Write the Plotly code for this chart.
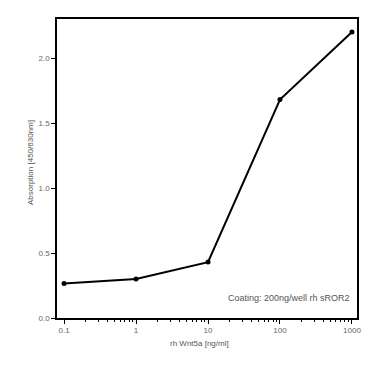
import plotly.graph_objects as go
import math

conc = [0.1, 1, 10, 100, 1000]
absorption = [0.265, 0.30, 0.43, 1.68, 2.20]
x_ticks = [0.1, 1, 10, 100, 1000]
x_tick_labels = ["0.1", "1", "10", "100", "1000"]
x_minor = [m * 10 ** d for d in range(-1, 3) for m in range(2, 10)]
y_ticks = [0.0, 0.5, 1.0, 1.5, 2.0]
y_tick_labels = ["0.0", "0.5", "1.0", "1.5", "2.0"]

fig = go.Figure()
fig.add_trace(go.Scatter(
    x=conc, y=absorption, mode="lines+markers",
    line=dict(color="black", width=2),
    marker=dict(color="black", size=5, symbol="circle"),
    showlegend=False,
))

font = "Liberation Sans, Arial, sans-serif"
# page body has an 8px margin; plot area targeted at x 57..357, y 19..318
W, H = 380, 358
L, R, T, B = 49, 31, 11, 48
pw, ph = W - L - R, H - T - B
fig.update_layout(
    width=W, height=H,
    margin=dict(l=L, r=R, t=T, b=B, autoexpand=False),
    paper_bgcolor="white", plot_bgcolor="white",
    font=dict(family=font, size=8, color="#555"),
    xaxis=dict(
        type="log", range=[math.log10(0.1) - 0.098, math.log10(1000) + 0.07],
        tickvals=x_ticks, ticktext=x_tick_labels,
        ticks="outside", ticklen=4, tickcolor="black", tickwidth=1,
        minor=dict(tickvals=x_minor, ticks="outside", ticklen=2, tickcolor="black", showgrid=False),
        showline=True, linecolor="black", linewidth=1.5, mirror=True,
        showgrid=False, zeroline=False,
        tickfont=dict(size=8, color="#666"),
    ),
    yaxis=dict(
        range=[0, 2.3],
        tickvals=y_ticks, ticktext=y_tick_labels,
        ticks="outside", ticklen=4, tickcolor="black", tickwidth=1,
        showline=True, linecolor="black", linewidth=1.5, mirror=True,
        showgrid=False, zeroline=False,
        tickfont=dict(size=8, color="#666"),
    ),
    annotations=[
        dict(text="Coating: 200ng/well rh sROR2", xref="paper", yref="paper",
             x=(352 - 57) / pw, y=(318 - 298) / ph, xanchor="right", yanchor="middle",
             showarrow=False, font=dict(size=9, color="#555", family=font)),
        dict(text="rh Wnt5a [ng/ml]", xref="paper", yref="paper",
             x=(199 - 57) / pw, y=-(343 - 318) / ph, xanchor="center", yanchor="middle",
             showarrow=False, font=dict(size=8, color="#555", family=font)),
        dict(text="Absorption [450/630nm]", xref="paper", yref="paper", textangle=-90,
             x=-(57 - 30) / pw, y=(318 - 163) / ph, xanchor="center", yanchor="middle",
             showarrow=False, font=dict(size=8, color="#555", family=font)),
    ],
)

fig.write_html("out.html")
